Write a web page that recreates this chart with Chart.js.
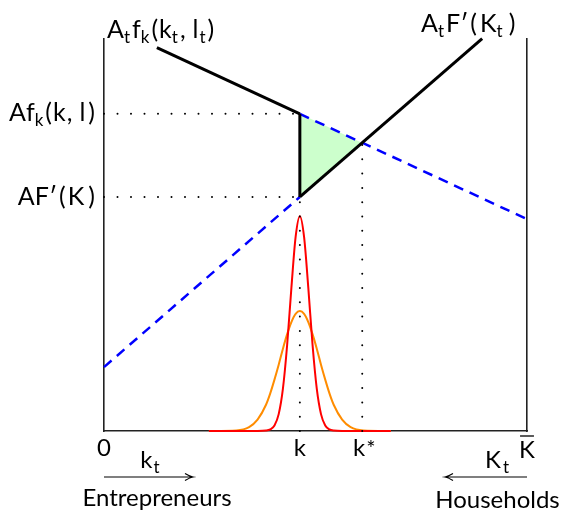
<!DOCTYPE html>
<html>
<head>
<meta charset="utf-8">
<title>Capital allocation between entrepreneurs and households</title>
<script src="https://cdn.jsdelivr.net/npm/chart.js@4.4.1/dist/chart.umd.min.js"></script>
<style>
  html, body { margin: 0; padding: 0; background: #fff; }
  canvas { display: block; }
</style>
</head>
<body>
<canvas id="chart" width="561" height="513"></canvas>
<script>
// --- Data (x runs 0 .. K-bar = 100, y runs 0 .. 100) ---
const kValue = 46.3;       // k
const kStarValue = 61.05;  // k*
const fkX = [12.5, 46.3, 100];     // A f_k line: start, at k, right edge
const fkY = [97.8, 80.9, 54.05];
const fpX = [0, 46.3, 89.4];       // A F'(K) line: left edge, at k, end
const fpY = [16.3, 59.7, 100.1];
const crossY = 73.5;               // where the two lines meet (at k*)

// capital densities around k
const densityX = [24.8, 31.3, 34.3, 36.3, 38.3, 39.3, 40.3, 41.3, 42.3, 43.3, 44.3, 45.3, 46.3,
                  47.3, 48.3, 49.3, 50.3, 51.3, 52.3, 53.3, 54.3, 56.3, 58.3, 61.3, 67.8];
const redY = [0, 0, 0, 0, 0.1, 0.4, 1.4, 4.3, 10.8, 22.0, 36.5, 49.5, 54.8,
              49.5, 36.5, 22.0, 10.8, 4.3, 1.4, 0.4, 0.1, 0, 0, 0, 0];
const orangeY = [0, 0.15, 1.0, 2.9, 6.7, 9.6, 13.1, 16.9, 21.0, 24.7, 27.8, 29.9, 30.6,
                 29.9, 27.8, 24.7, 21.0, 16.9, 13.1, 9.6, 6.7, 2.9, 1.0, 0.15, 0];

const FONT = '"Lato", "DejaVu Sans", sans-serif';

function pts(xs, ys) {
    return xs.map(function (x, i) { return { x: x, y: ys[i] }; });
}

function lineSet(data, color, width, dash) {
    return {
        data: data,
        borderColor: color,
        backgroundColor: color,
        borderWidth: width,
        borderDash: dash || [],
        borderCapStyle: dash && dash[0] === 0 ? 'round' : 'butt',
        pointRadius: 0,
        fill: false,
        clip: false
    };
}

// --- Text helper: parts are [text, kind]; kind '', 'word', 'sub', 'star' or 'gap' (text = px) ---
const partStyle = {
    '': { size: 25, dy: 0 },
    word: { size: 24, dy: 0 },
    sub: { size: 17, dy: 5 },
    star: { size: 22, dy: 0 }
};

function partWidth(ctx, p) {
    if (p[1] === 'gap') return p[0];
    ctx.font = partStyle[p[1] || ''].size + 'px ' + FONT;
    return ctx.measureText(p[0]).width;
}

function drawRich(ctx, parts, x, y, align) {
    let width = 0;
    parts.forEach(function (p) { width += partWidth(ctx, p); });
    let cx = align === 'center' ? x - width / 2 : (align === 'right' ? x - width : x);
    parts.forEach(function (p) {
        const w = partWidth(ctx, p);
        if (p[1] !== 'gap') ctx.fillText(p[0], cx, y + partStyle[p[1] || ''].dy);
        cx += w;
    });
    return width;
}

function drawArrow(ctx, x1, x2, y) {
    const dir = x2 > x1 ? 1 : -1;
    ctx.beginPath();
    ctx.moveTo(x1, y);
    ctx.lineTo(x2, y);
    ctx.moveTo(x2 - dir * 8, y - 3.5);
    ctx.quadraticCurveTo(x2 - dir * 3, y - 0.5, x2, y);
    ctx.quadraticCurveTo(x2 - dir * 3, y + 0.5, x2 - dir * 8, y + 3.5);
    ctx.stroke();
}

const labelPlugin = {
    id: 'labels',
    afterDraw: function (chart) {
        const ctx = chart.ctx;
        const xs = chart.scales.x;
        const ys = chart.scales.y;
        const bottom = ys.getPixelForValue(0);
        const left = xs.getPixelForValue(0);
        const right = xs.getPixelForValue(100);
        ctx.save();
        ctx.fillStyle = '#000';
        ctx.strokeStyle = '#000';
        ctx.textAlign = 'left';
        ctx.textBaseline = 'alphabetic';

        // curve names at the top
        drawRich(ctx, [['A'], ['t', 'sub'], [2, 'gap'], ['f'], ['k', 'sub'], [2, 'gap'], ['('], [1, 'gap'], ['k'], ['t', 'sub'],
            [2, 'gap'], [','], [7, 'gap'], ['l'], [1, 'gap'], ['t', 'sub'], [2, 'gap'], [')']], 107, 38, 'left');
        drawRich(ctx, [['A'], ['t', 'sub'], [2, 'gap'], ['F'], ['\u2032'], [2, 'gap'], ['('], [3, 'gap'], ['K'], ['t', 'sub'],
            [6, 'gap'], [')']], 421, 32, 'left');

        // levels on the left
        drawRich(ctx, [['A'], ['f'], ['k', 'sub'], [2, 'gap'], ['('], [1, 'gap'], ['k'], [1, 'gap'], [','], [7, 'gap'], ['l'],
            [3, 'gap'], [')']], left - 9, ys.getPixelForValue(fkY[1]) + 7, 'right');
        drawRich(ctx, [['A'], ['F'], ['\u2032'], [2, 'gap'], ['('], [2, 'gap'], ['K'], [4, 'gap'], [')']],
            left - 9, ys.getPixelForValue(fpY[1]) + 8, 'right');

        // points on the capital axis
        drawRich(ctx, [['0', 'word']], left, bottom + 25, 'center');
        drawRich(ctx, [['k', 'word']], xs.getPixelForValue(kValue), bottom + 25, 'center');
        drawRich(ctx, [['k', 'word'], [1, 'gap'], ['*', 'star']], xs.getPixelForValue(kStarValue) + 2, bottom + 25, 'center');
        const kbW = drawRich(ctx, [['K', 'word']], right, bottom + 27, 'center');
        ctx.lineWidth = 1.3;
        ctx.beginPath();
        ctx.moveTo(right - kbW / 2 + 1, bottom + 5);
        ctx.lineTo(right + kbW / 2 - 1, bottom + 5);
        ctx.stroke();

        // who holds the capital
        ctx.lineWidth = 1.2;
        drawArrow(ctx, left, 193, bottom + 46);
        drawRich(ctx, [['k', 'word'], [1, 'gap'], ['t', 'sub']], 150, bottom + 37, 'center');
        drawRich(ctx, [['Entrepreneurs', 'word']], 157, bottom + 75, 'center');
        drawArrow(ctx, right, 445, bottom + 46);
        drawRich(ctx, [['K', 'word'], [2, 'gap'], ['t', 'sub']], 497, bottom + 37, 'center');
        drawRich(ctx, [['Households', 'word']], 497.5, bottom + 77, 'center');
        ctx.restore();
    }
};

// --- Datasets: first in the list is drawn on top ---
const datasets = [
    lineSet(pts(fkX.slice(0, 2), fkY.slice(0, 2)), '#000', 3),
    lineSet(pts(fpX.slice(1), fpY.slice(1)), '#000', 3),
    lineSet([{ x: kValue, y: fpY[1] }, { x: kValue, y: fkY[1] }], '#000', 3),
    lineSet(pts(fkX.slice(1), fkY.slice(1)), '#0000ff', 2.5, [10, 7]),
    lineSet(pts(fpX.slice(0, 2), fpY.slice(0, 2)), '#0000ff', 2.5, [10, 7]),
    lineSet([{ x: 0, y: fkY[1] }, { x: kValue, y: fkY[1] }], '#000', 2, [0, 13.5]),
    lineSet([{ x: 0, y: fpY[1] }, { x: kValue, y: fpY[1] }], '#000', 2, [0, 13.5]),
    lineSet([{ x: kValue, y: 0 }, { x: kValue, y: fpY[1] }], '#000', 2, [0, 14.3]),
    lineSet([{ x: kStarValue, y: 0 }, { x: kStarValue, y: crossY }], '#000', 2, [0, 14.3]),
    Object.assign(lineSet(pts(densityX, redY), '#ff0000', 2), { cubicInterpolationMode: 'monotone' }),
    Object.assign(lineSet(pts(densityX, orangeY), '#ff8c00', 2), { cubicInterpolationMode: 'monotone' }),
    Object.assign(lineSet([{ x: kValue, y: fkY[1] }, { x: kStarValue, y: crossY }, { x: kValue, y: fpY[1] }], 'rgba(0,0,0,0)', 0), {
        fill: 'shape',
        backgroundColor: '#ccffcc'
    })
];

const hiddenAxis = function (position) {
    return {
        type: 'linear',
        position: position,
        min: 0,
        max: 100,
        ticks: { display: false },
        grid: { display: false, drawTicks: false },
        border: { display: true, color: '#222', width: 1.6 }
    };
};

new Chart(document.getElementById('chart'), {
    type: 'line',
    data: { datasets: datasets },
    options: {
        responsive: false,
        animation: false,
        devicePixelRatio: 1,
        layout: { padding: { left: 104, right: 34, top: 39, bottom: 82 } },
        plugins: { legend: { display: false }, tooltip: { enabled: false } },
        scales: {
            x: hiddenAxis('bottom'),
            y: hiddenAxis('left'),
            yRight: hiddenAxis('right')
        }
    },
    plugins: [labelPlugin]
});
</script>
</body>
</html>
